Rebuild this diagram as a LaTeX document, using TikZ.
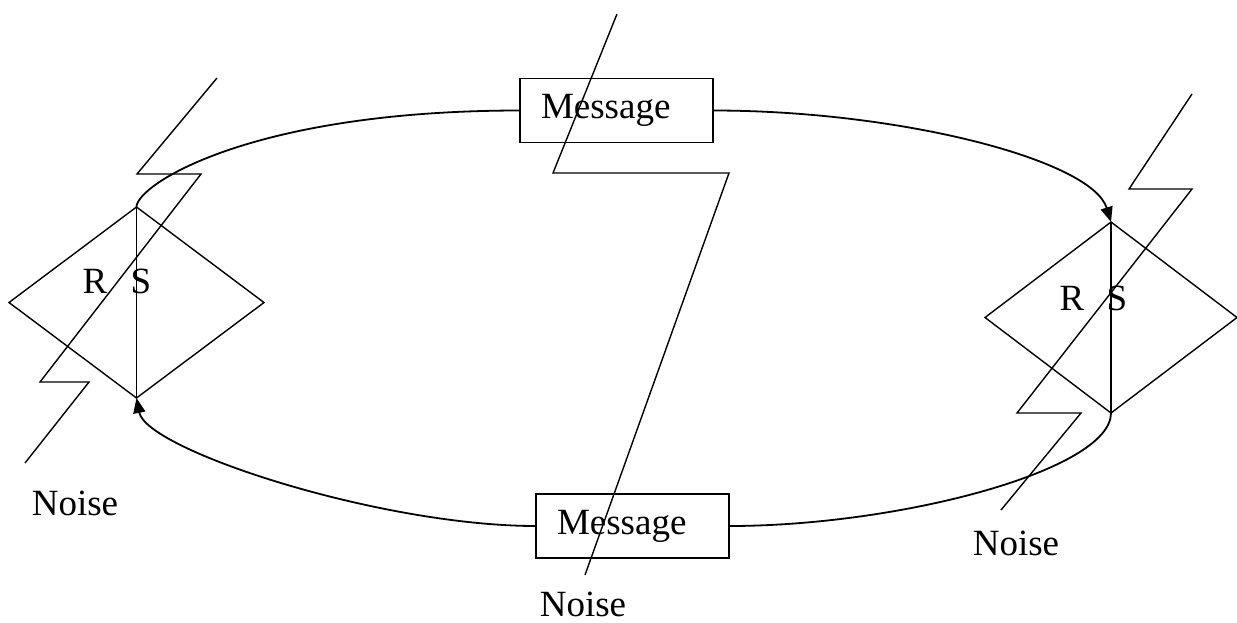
\documentclass[tikz,border=0pt]{standalone}
\usepackage{fontspec}
\setmainfont{Liberation Serif}
\usetikzlibrary{shapes.geometric,arrows.meta}
\begin{document}
\begin{tikzpicture}[x=1pt,y=-1pt,
  every node/.style={font=\fontsize{37}{44}\selectfont},
  edge/.style={line width=1.5pt},
  flow/.style={line width=1.8pt},
  tip/.style={-{Triangle[length=15pt,width=12pt]}},
  station/.style={draw, diamond, line width=1.4pt, inner sep=0pt, outer sep=0pt,
                  minimum width=255pt, minimum height=191pt},
  msg/.style={draw, rectangle, line width=1.4pt, outer sep=0pt,
              minimum height=64pt, inner xsep=21pt, text width=151pt, align=left},
  lbl/.style={anchor=base, inner sep=0pt},
  bolt/.style={line width=1.4pt, line join=miter}
]
\useasboundingbox (0,0) rectangle (1237,622);
\fill[white] (0,0) rectangle (1237,622);

% the two stations and the messages passing between them
\node[station] (L) at (136.5,302.5) {};
\node[station, minimum width=252pt] (R) at (1111,317.5) {};
\node[msg] (M1) at (616.5,110.5) {Message};
\node[msg] (M2) at (632.5,526) {Message};

% receiver / sender letters
\node[lbl] (lr) at (95,293) {R};
\node[lbl] (ls) at (141,293) {S};
\node[lbl] (rr) at (1072,310) {R};
\node[lbl] (rs) at (1117,310) {S};

% noise captions
\node[lbl] (n1) at (75,515) {Noise};
\node[lbl] (n2) at (1016,555) {Noise};
\node[lbl] (n3) at (583,616) {Noise};

% the loop of communication
\draw[edge] (L.north) -- (L.south);
\draw[edge] (R.north) -- (R.south);
\draw[flow] (L.north) .. controls +(0,-22) and +(-270,0) .. (M1.west);
\draw[flow,tip] (M1.east) .. controls +(187,0) and +(-19,-62) .. (R.north);
\draw[flow] (R.south) .. controls +(0,57) and +(171,0) .. (M2.east);
\draw[flow,tip] (M2.west) .. controls +(-156,0) and +(10,52) .. (L.south);

% noise bolts
\draw[bolt] (217,78) -- (137,174) -- (201,174) -- (40,382) -- (89,382) -- (25,463);
\draw[bolt] (1192,94) -- (1129,189) -- (1192,189) -- (1017,413) -- (1081,413) -- (1001,510);
\draw[bolt] (617,14) -- (553,173) -- (729,173) -- (585,575);
\end{tikzpicture}
\end{document}
